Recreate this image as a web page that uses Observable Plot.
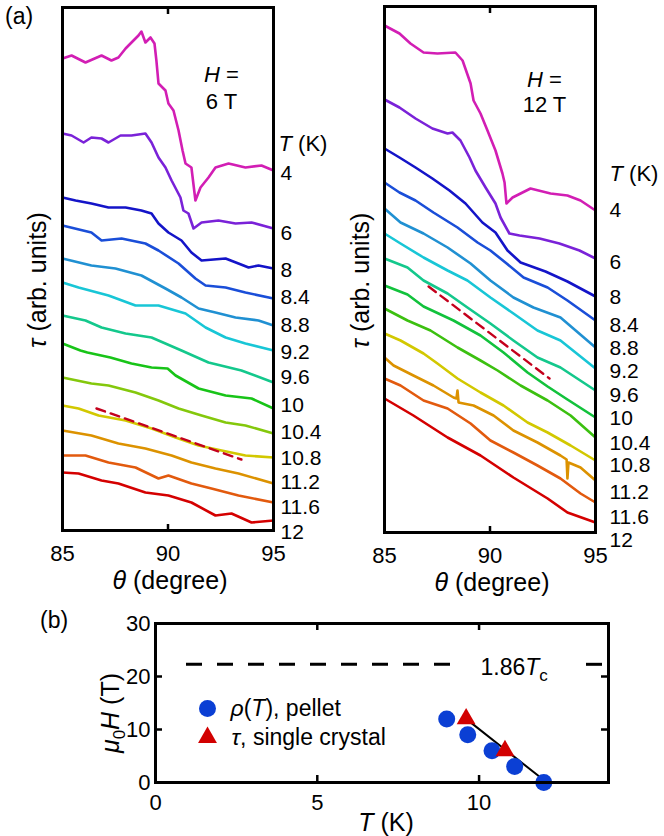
<!DOCTYPE html>
<html><head><meta charset="utf-8">
<script src="https://cdn.jsdelivr.net/npm/d3@7"></script>
<script src="https://cdn.jsdelivr.net/npm/@observablehq/plot@0.6"></script>
<style>
body{margin:0;background:#fff;}
#root{position:relative;width:664px;height:836px;font-family:"Liberation Sans",Arial,Helvetica,sans-serif;overflow:hidden;}
.pane{position:absolute;}
.lab{position:absolute;font-size:23px;line-height:23px;color:#000;}
</style></head><body>
<div id="root">
  <div class="lab" style="left:5px;top:5px;">(a)</div>
  <div class="lab" style="left:40px;top:609px;">(b)</div>
  <div class="pane" id="pL" style="left:0;top:0;"></div>
  <div class="pane" id="pR" style="left:332px;top:0;"></div>
  <div class="pane" id="pB" style="left:0;top:595px;"></div>
</div>
<script>
// ---------- data: panel (a) ----------
const temps = ["4","6","8","8.4","8.8","9.2","9.6","10","10.4","10.8","11.2","11.6","12"];
const thetaTicks = [85, 90, 95];

// H = 6 T  : [theta (degree), tau (arb. units)]
const h6_4 = [[85.0,472],[85.43,475],[86.09,468],[86.85,475],[87.32,470],[87.65,473],[87.99,482],[88.27,488],[88.6,495],[88.74,499],[88.93,488],[89.17,493],[89.36,487],[89.45,470],[89.55,447],[89.88,440],[90.02,427],[90.26,420],[90.5,400],[90.69,380],[90.83,367],[91.11,363],[91.3,330],[91.54,343],[91.92,353],[92.25,363],[92.87,367],[93.67,363],[94.43,365],[95.0,360]];
const h6_6 = [[85.0,397],[85.43,395],[86.0,388],[86.37,393],[86.85,392],[87.18,388],[87.75,395],[88.27,395],[88.93,397],[89.22,388],[89.55,373],[89.88,363],[90.17,350],[90.59,333],[90.73,320],[90.97,317],[91.21,302],[91.59,308],[92.39,310],[93.2,307],[93.96,308],[95.0,302]];
const h6_8 = [[85.0,333],[85.62,330],[86.37,327],[87.18,323],[87.99,323],[88.74,320],[89.22,317],[89.55,307],[90.02,298],[90.64,290],[91.11,278],[91.59,270],[92.73,272],[93.34,267],[93.82,263],[94.29,265],[95.0,262]];
const h6_84 = [[85.0,305],[86.37,298],[86.85,290],[87.8,292],[88.93,287],[89.55,280],[90.5,267],[91.3,252],[91.78,245],[92.73,243],[93.67,238],[95.0,232]];
const h6_88 = [[85.0,272],[86.37,265],[87.51,262],[88.74,255],[89.88,242],[90.64,233],[91.45,222],[92.25,218],[93.2,213],[94.29,210],[95.0,205]];
const h6_92 = [[85.0,248],[85.76,243],[87.18,235],[88.46,225],[89.55,225],[90.83,217],[91.78,203],[92.73,193],[93.67,187],[95.0,180]];
const h6_96 = [[85.0,215],[86.09,210],[86.85,203],[87.99,197],[89.22,193],[90.64,180],[91.92,168],[93.48,160],[95.0,148]];
const h6_10 = [[85.0,187],[85.85,180],[86.18,178],[87.27,173],[88.27,167],[89.22,163],[89.98,162],[90.36,155],[91.45,142],[92.73,135],[93.96,132],[95.0,122]];
const h6_104 = [[85.0,153],[86.37,147],[87.18,145],[88.46,138],[89.55,130],[90.5,122],[91.59,115],[92.73,108],[93.67,105],[95.0,97]];
const h6_108 = [[85.0,125],[85.76,122],[86.71,115],[87.99,110],[89.22,102],[90.36,93],[91.45,85],[92.54,80],[93.67,75],[95.0,73]];
const h6_112 = [[85.0,100],[86.37,95],[87.65,87],[88.93,82],[90.17,75],[91.11,68],[92.25,62],[93.34,57],[95.0,47]];
const h6_116 = [[85.0,75],[86.09,75],[87.18,68],[88.46,63],[89.55,52],[90.02,55],[91.11,47],[92.06,42],[93.34,35],[95.0,28]];
const h6_12 = [[85.0,58],[85.76,57],[86.85,50],[87.65,47],[88.93,38],[90.02,35],[91.11,28],[92.25,15],[93.01,17],[93.96,8],[95.0,10]];
const h6Curves = [h6_4,h6_6,h6_8,h6_84,h6_88,h6_92,h6_96,h6_10,h6_104,h6_108,h6_112,h6_116,h6_12];
const h6LabelTau = [357,297,260,233,205,178,153,125,98,72,48,23,-2];
const h6Guide = [[86.61,122],[93.48,71]];

// H = 12 T
const h12_4 = [[85.0,507],[85.71,499],[86.23,489],[86.85,480],[87.51,479],[88.36,480],[88.7,472],[89.08,449],[89.22,432],[89.55,419],[89.88,402],[90.26,382],[90.59,359],[90.69,350],[90.78,329],[91.07,335],[91.92,344],[92.87,339],[93.67,337],[94.29,332],[95.0,322]];
const h12_6 = [[85.0,433],[85.71,425],[86.47,414],[87.27,404],[87.99,399],[88.22,400],[88.6,392],[89.03,375],[89.31,362],[89.79,345],[90.26,329],[90.5,315],[90.92,299],[91.4,297],[92.35,294],[93.29,289],[94.24,282],[95.0,274]];
const h12_8 = [[85.0,384],[85.71,375],[86.47,365],[87.27,354],[88.08,342],[88.84,329],[89.64,310],[90.26,300],[90.83,282],[91.45,270],[92.63,261],[93.67,251],[95.0,236]];
const h12_84 = [[85.0,350],[85.71,340],[86.47,332],[87.32,320],[88.46,305],[89.41,290],[90.02,282],[90.73,270],[91.59,255],[92.73,245],[93.67,232],[95.0,212]];
const h12_88 = [[85.0,324],[85.76,310],[86.85,299],[87.99,285],[89.08,269],[90.02,252],[91.11,235],[92.06,225],[93.34,215],[95.0,185]];
const h12_92 = [[85.0,299],[85.76,289],[86.85,275],[87.99,262],[88.93,252],[90.02,235],[91.11,219],[92.25,202],[93.34,192],[95.0,164]];
const h12_96 = [[85.0,274],[86.09,265],[86.85,252],[87.99,239],[88.93,225],[90.02,209],[91.11,192],[92.25,175],[93.34,165],[95.0,142]];
const h12_10 = [[85.0,247],[86.09,238],[86.85,226],[88.27,212],[89.55,197],[90.64,180],[91.78,160],[92.73,146],[93.67,133],[95.0,115]];
const h12_104 = [[85.0,224],[86.09,212],[87.18,202],[88.46,185],[89.55,172],[90.36,162],[91.45,147],[92.73,132],[93.82,117],[95.0,95]];
const h12_108 = [[85.0,199],[85.76,192],[86.85,179],[87.51,169],[88.46,154],[89.55,140],[90.64,127],[91.78,110],[92.73,100],[93.82,87],[95.0,72]];
const h12_112 = [[85.0,175],[85.43,167],[86.37,157],[87.32,147],[88.27,135],[88.41,134],[88.46,142],[88.51,130],[89.22,127],[90.17,117],[91.11,102],[92.25,90],[93.34,77],[93.63,73],[93.67,54],[93.72,70],[94.29,65],[95.0,52]];
const h12_116 = [[85.0,154],[85.76,147],[86.85,132],[87.99,124],[89.08,109],[90.02,92],[91.11,80],[92.25,67],[93.34,54],[94.29,39],[95.0,30]];
const h12_12 = [[85.0,134],[86.37,117],[87.99,95],[89.55,77],[91.11,55],[92.73,34],[93.67,20],[95.0,10]];
const h12Curves = [h12_4,h12_6,h12_8,h12_84,h12_88,h12_92,h12_96,h12_10,h12_104,h12_108,h12_112,h12_116,h12_12];
const h12LabelTau = [322,270,235,207,184,161,137,114,89,67,40,15,-8];
const h12Guide = [[87.09,246],[92.82,154]];

// ---------- data: panel (b) ----------
const pelletT = [9.0, 9.65, 10.4, 11.1, 12.0];
const pelletH = [12, 9, 6, 3, 0];
const crystalT = [9.6, 10.8];
const crystalH = [12, 6];
const fitT = [9.6, 11.95];
const fitH = [12, 0.7];
const limitH = 22.3;          // 1.86 Tc line
const bTicksX = [0, 5, 10];
const bTicksY = [0, 10, 20, 30];

// ---------- styles ----------
const FONT = '"Liberation Sans", Arial, Helvetica, sans-serif';
const palette6 = ["#d21eb4","#7a22d8","#1414c8","#1a4ed8","#2090d2","#18c6d6","#14c88c","#18c418","#84c80c","#d2c800","#dc9200","#e25a0e","#d40000"];
const palette12 = ["#d21eb4","#7a22d8","#1414c8","#1a4ed8","#2090d2","#18c6d6","#14c88c","#12c23c","#3cc010","#d2c800","#dc9200","#e25a0e","#d40000"];
const BLUE = "#0b3fd4", RED = "#d20000";

const rich = {
  "τ (arb. units)": '<tspan font-style="italic">τ</tspan> (arb. units)',
  "θ (degree)": '<tspan font-style="italic">θ</tspan> (degree)',
  "T (K)": '<tspan font-style="italic">T</tspan> (K)',
  "H =": '<tspan font-style="italic">H</tspan> =',
  "μ0H (T)": '<tspan font-style="italic">μ</tspan><tspan dy="6" font-size="17">0</tspan><tspan dy="-6" font-style="italic">H</tspan> (T)',
  "1.86Tc": '1.86<tspan font-style="italic">T</tspan><tspan dy="6" font-size="17">c</tspan>',
  "ρ(T), pellet": '<tspan font-style="italic">ρ</tspan>(<tspan font-style="italic">T</tspan>), pellet',
  "τ, single crystal": '<tspan font-style="italic">τ</tspan>, single crystal'
};
function enrich(svg) {
  svg.querySelectorAll("text").forEach(t => {
    const k = t.textContent;
    if (rich[k]) t.innerHTML = rich[k];
  });
  return svg;
}

function panelA({curves, labelTau, guide, palette, yMax, mL, mR, mT, mB, labelDx, headDx, headDy, hDx, hDy1, hDy2, field, yDx, yDy}) {
  const data = curves.flatMap((pts, i) => pts.map(([theta, tau]) => ({T: temps[i], theta, tau})));
  const labels = temps.map((T, i) => ({T, tau: labelTau[i]}));
  const innerH = 595 - mT - mB;
  const mid = {textAnchor: "middle", lineAnchor: "middle"};
  return Plot.plot({
    width: 332, height: 595,
    marginLeft: mL, marginRight: mR, marginTop: mT, marginBottom: mB,
    style: {fontFamily: FONT, fontSize: "22px", color: "black", background: "transparent", overflow: "visible"},
    x: {domain: [85, 95]},
    y: {domain: [0, yMax], axis: null},
    color: {domain: temps, range: palette},
    marks: [
      Plot.line(data, {x: "theta", y: "tau", z: "T", stroke: "T", strokeWidth: 2.6, strokeLinejoin: "round"}),
      Plot.line(guide, {x: d => d[0], y: d => d[1], stroke: "#c4001c", strokeWidth: 2.4, strokeDasharray: "9,6"}),
      Plot.frame({strokeWidth: 3}),
      Plot.ruleX([90], {strokeWidth: 2.5, insetBottom: innerH - 7}),
      Plot.ruleX([90], {strokeWidth: 2.5, insetTop: innerH - 6}),
      Plot.axisX({ticks: thetaTicks, tickSize: 0, tickPadding: 15, label: null, fontSize: 22}),
      Plot.text(labels, {y: "tau", text: "T", frameAnchor: "right", textAnchor: "start", lineAnchor: "middle", dx: labelDx, fontSize: 21}),
      Plot.text(["T (K)"], {x: null, y: null, text: d => d, frameAnchor: "top-right", textAnchor: "start", lineAnchor: "middle", dx: headDx, dy: headDy, fontSize: 22}),
      Plot.text(["H ="], {x: null, y: null, text: d => d, frameAnchor: "top-right", ...mid, dx: hDx, dy: hDy1, fontSize: 22}),
      Plot.text([field], {x: null, y: null, text: d => d, frameAnchor: "top-right", ...mid, dx: hDx, dy: hDy2, fontSize: 22}),
      Plot.text(["θ (degree)"], {x: null, y: null, text: d => d, frameAnchor: "bottom", ...mid, dx: 2, dy: 50, fontSize: 25}),
      Plot.text(["τ (arb. units)"], {x: null, y: null, text: d => d, frameAnchor: "left", ...mid, rotate: -90, dx: yDx, dy: yDy, fontSize: 25})
    ]
  });
}

const left = panelA({curves: h6Curves, labelTau: h6LabelTau, guide: h6Guide, palette: palette6, yMax: 523,
  mL: 62, mR: 59, mT: 7, mB: 65, labelDx: 7, headDx: 5, headDy: 136, hDx: -52, hDy1: 67, hDy2: 94, field: "6 T", yDx: -25, yDy: 11});
const right = panelA({curves: h12Curves, labelTau: h12LabelTau, guide: h12Guide, palette: palette12, yMax: 526,
  mL: 52, mR: 69, mT: 6, mB: 63, labelDx: 14, headDx: 14, headDy: 167, hDx: -51, hDy1: 73, hDy2: 98, field: "12 T", yDx: -24, yDy: 11});
document.getElementById("pL").appendChild(enrich(left));
document.getElementById("pR").appendChild(enrich(right));

// ---------- panel (b) ----------
const pellet = pelletT.map((T, i) => ({T, H: pelletH[i]}));
const crystal = crystalT.map((T, i) => ({T, H: crystalH[i]}));
const fit = fitT.map((T, i) => ({T, H: fitH[i]}));
const bInnerH = 241 - 28 - 54, bInnerW = 664 - 155 - 56;
const pb = Plot.plot({
  width: 664, height: 241,
  marginLeft: 155, marginRight: 56, marginTop: 28, marginBottom: 54,
  style: {fontFamily: FONT, fontSize: "22px", color: "black", background: "transparent", overflow: "visible"},
  x: {domain: [0, 14]},
  y: {domain: [0, 30]},
  marks: [
    Plot.ruleY([limitH], {strokeWidth: 3, strokeDasharray: "16,15", insetLeft: 31, insetRight: 158}),
    Plot.ruleY([limitH], {strokeWidth: 3, strokeDasharray: "16,15", insetLeft: 431, insetRight: 6}),
    Plot.text([limitH], {y: d => d, text: () => "1.86Tc", frameAnchor: "right", textAnchor: "start", lineAnchor: "middle", dx: -128, dy: 3, fontSize: 23}),
    Plot.line(fit, {x: "T", y: "H", stroke: "black", strokeWidth: 2}),
    Plot.dot(pellet, {x: "T", y: "H", r: 8.5, fill: BLUE}),
    Plot.dot(crystal, {x: "T", y: "H", r: 7, symbol: "triangle", fill: RED}),
    Plot.frame({strokeWidth: 3}),
    Plot.ruleX([5, 10], {strokeWidth: 2.5, insetBottom: bInnerH - 7}),
    Plot.ruleX([5, 10], {strokeWidth: 2.5, insetTop: bInnerH - 7}),
    Plot.ruleY([10, 20], {strokeWidth: 2.5, insetRight: bInnerW - 7}),
    Plot.ruleY([10, 20], {strokeWidth: 2.5, insetLeft: bInnerW - 7}),
    Plot.axisX({ticks: bTicksX, tickSize: 0, tickPadding: 12, label: null}),
    Plot.axisY({ticks: bTicksY, tickSize: 0, tickPadding: 5, label: null}),
    Plot.text(["T (K)"], {x: null, y: null, text: d => d, frameAnchor: "bottom", textAnchor: "middle", lineAnchor: "middle", dx: 4, dy: 40, fontSize: 25}),
    Plot.text(["μ0H (T)"], {x: null, y: null, text: d => d, frameAnchor: "left", textAnchor: "middle", lineAnchor: "middle", rotate: -90, dx: -45, dy: 10, fontSize: 25}),
    Plot.dot([0], {x: null, y: null, frameAnchor: "top-left", dx: 52, dy: 85, r: 8.5, fill: BLUE}),
    Plot.dot([0], {x: null, y: null, frameAnchor: "top-left", dx: 52, dy: 114, r: 7, symbol: "triangle", fill: RED}),
    Plot.text(["ρ(T), pellet"], {x: null, y: null, text: d => d, frameAnchor: "top-left", textAnchor: "start", lineAnchor: "middle", dx: 75, dy: 85, fontSize: 23}),
    Plot.text(["τ, single crystal"], {x: null, y: null, text: d => d, frameAnchor: "top-left", textAnchor: "start", lineAnchor: "middle", dx: 76, dy: 114, fontSize: 23})
  ]
});
document.getElementById("pB").appendChild(enrich(pb));
</script></body></html>
